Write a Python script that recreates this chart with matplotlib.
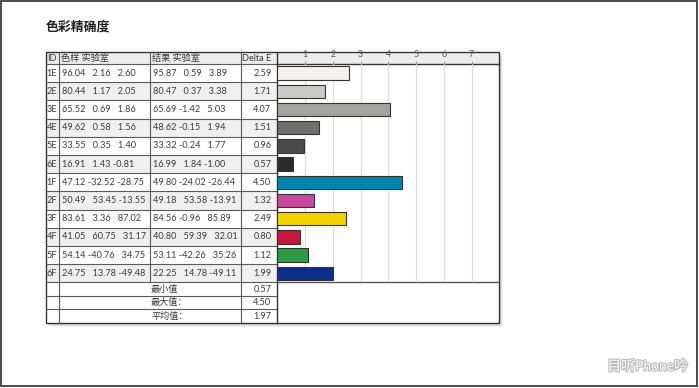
import matplotlib
matplotlib.use('Agg')
import matplotlib.pyplot as plt
import matplotlib.patheffects as pe
from matplotlib.patches import Rectangle

plt.rcParams['font.family'] = ['Lato', 'Noto Sans CJK SC', 'DejaVu Sans']

# ---- data ----
ids = ['1E', '2E', '3E', '4E', '5E', '6E', '1F', '2F', '3F', '4F', '5F', '6F']
ref_L = [96.04, 80.44, 65.52, 49.62, 33.55, 16.91, 47.12, 50.49, 83.61, 41.05, 54.14, 24.75]
ref_a = [2.16, 1.17, 0.69, 0.58, 0.35, 1.43, -32.52, 53.45, 3.36, 60.75, -40.76, 13.78]
ref_b = [2.60, 2.05, 1.86, 1.56, 1.40, -0.81, -28.75, -13.55, 87.02, 31.17, 34.75, -49.48]
res_L = [95.87, 80.47, 65.69, 48.62, 33.32, 16.99, 49.80, 49.18, 84.56, 40.80, 53.11, 22.25]
res_a = [0.59, 0.37, -1.42, -0.15, -0.24, 1.84, -24.02, 53.58, -0.96, 59.39, -42.26, 14.78]
res_b = [3.89, 3.38, 5.03, 1.94, 1.77, -1.00, -26.44, -13.91, 85.89, 32.01, 35.26, -49.11]
delta_e = [2.59, 1.71, 4.07, 1.51, 0.96, 0.57, 4.50, 1.32, 2.49, 0.80, 1.12, 1.99]
bar_colors = ['#f4f1ed', '#c9c9c5', '#a3a39f', '#6f6f6f', '#4a4a4a', '#2b2b2b',
              '#0085a9', '#c8489c', '#f2d300', '#c8163c', '#2f9a45', '#0c2f88']
summary_labels = ['最小值', '最大值：', '平均值：']
summary_values = [0.57, 4.50, 1.97]
headers = ['ID', '色样 实验室', '结果 实验室', 'Delta E']
title = '色彩精确度'

# ---- layout (pixels) ----
W, H = 699, 388
X_ID, X_REF, X_RES, X_DE, X_CH, X_END = 45.5, 59, 150, 240.5, 277.3, 499.3
Y_TOP, Y_HDR, ROW_H, SUM_H = 51.5, 64, 18.2, 13.5
Y_DATA_END = Y_HDR + ROW_H * len(ids)
Y_END = Y_DATA_END + SUM_H * len(summary_labels)
TXT = '#3a3a3a'
LINE = '#5a5a5a'
FS = 6.6


def lab_str(vals):
    s = f'{vals[0]:.2f}'
    for v in vals[1:]:
        s += (' ' if v < 0 else '   ') + f'{v:.2f}'
    return s


fig = plt.figure(figsize=(W / 100, H / 100), dpi=100)
bg = fig.add_axes([0, 0, 1, 1])
bg.set_xlim(0, W)
bg.set_ylim(H, 0)
bg.axis('off')

# page frame
bg.add_patch(Rectangle((0.8, 0.8), W - 2.4, H - 2.4, fill=False, ec='#3c3c3c', lw=1.3))

bg.text(X_ID, 26, title, fontsize=9.3, fontweight='bold', color='#222222',
        va='center', ha='left')

# soft shadow
for k, a in [(4, 0.10), (3, 0.12), (2, 0.16)]:
    bg.add_patch(Rectangle((X_ID + k, Y_TOP + k), X_END - X_ID, Y_END - Y_TOP,
                           fc='#808080', ec='none', alpha=a))
bg.add_patch(Rectangle((X_ID, Y_TOP), X_END - X_ID, Y_END - Y_TOP, fc='white', ec='none'))

# header band
bg.add_patch(Rectangle((X_ID, Y_TOP), X_END - X_ID, Y_HDR - Y_TOP, fc='#ececec', ec='none'))
hx = [X_ID + 1.2, X_REF + 2, X_RES + 2, X_DE + 1.5]
for x, h in zip(hx, headers):
    bg.text(x, (Y_TOP + Y_HDR) / 2 + 0.5, h, fontsize=FS, color=TXT, va='center', ha='left')

# data rows
for i, rid in enumerate(ids):
    y0 = Y_HDR + i * ROW_H
    yc = y0 + ROW_H / 2
    if i % 2 == 1:
        bg.add_patch(Rectangle((X_ID, y0), X_CH - X_ID, ROW_H, fc='#efefef', ec='none'))
    bg.plot([X_ID, X_CH], [y0, y0], color=LINE, lw=0.8)
    bg.text(X_ID + 1.2, yc, rid, fontsize=FS, color=TXT, va='center', ha='left')
    bg.text(X_REF + 3, yc, lab_str([ref_L[i], ref_a[i], ref_b[i]]), fontsize=FS,
            color=TXT, va='center', ha='left')
    bg.text(X_RES + 3, yc, lab_str([res_L[i], res_a[i], res_b[i]]), fontsize=FS,
            color=TXT, va='center', ha='left')
    bg.text(X_CH - 6, yc, f'{delta_e[i]:.2f}', fontsize=FS, color=TXT, va='center', ha='right')

# summary rows
for j, (lab, val) in enumerate(zip(summary_labels, summary_values)):
    y0 = Y_DATA_END + j * SUM_H
    yc = y0 + SUM_H / 2
    bg.plot([X_ID, X_CH], [y0, y0], color=LINE, lw=0.8)
    bg.text(X_RES + 1, yc, lab, fontsize=FS, color=TXT, va='center', ha='left')
    bg.text(X_CH - 6, yc, f'{val:.2f}', fontsize=FS, color=TXT, va='center', ha='right')

# column lines and outer border
bg.plot([X_REF, X_REF], [Y_TOP, Y_END], color=LINE, lw=0.8)
bg.plot([X_RES, X_RES], [Y_TOP, Y_DATA_END], color=LINE, lw=0.8)
bg.plot([X_DE, X_DE], [Y_TOP, Y_END], color=LINE, lw=0.8)
bg.plot([X_CH, X_CH], [Y_TOP, Y_END], color='#333333', lw=1.0)
bg.plot([X_CH, X_END], [Y_HDR, Y_HDR], color='#333333', lw=1.0)
bg.plot([X_CH, X_END], [Y_DATA_END, Y_DATA_END], color='#555555', lw=1.0)
bg.add_patch(Rectangle((X_ID, Y_TOP), X_END - X_ID, Y_END - Y_TOP, fill=False,
                       ec='#333333', lw=1.0))

# watermark
bg.text(688, 366, '目听Phone吟', fontsize=10, color='white', ha='right', va='center',
        path_effects=[pe.withStroke(linewidth=1.6, foreground='#b8b8b8')])

# ---- bar chart ----
ax = fig.add_axes([X_CH / W, 1 - Y_DATA_END / H, (X_END - X_CH) / W,
                   (Y_DATA_END - Y_HDR) / H])
ax.patch.set_alpha(0)
ypos = list(range(len(ids)))
ax.barh(ypos, delta_e, height=0.74, color=bar_colors, edgecolor='#333333',
        linewidth=0.8, zorder=3)
ax.set_xlim(0, 8)
ax.set_ylim(len(ids) - 0.5, -0.5)
ax.set_yticks([])
ax.set_xticks(range(1, 8))
ax.xaxis.tick_top()
ax.tick_params(axis='x', length=2.5, width=0.6, color='#888888', pad=1.2,
               labelsize=6.3, labelcolor='#555555')
ax.grid(axis='x', color='#dcdcdc', lw=0.9, zorder=0)
for s in ax.spines.values():
    s.set_visible(False)

fig.savefig('out.png', dpi=100)
